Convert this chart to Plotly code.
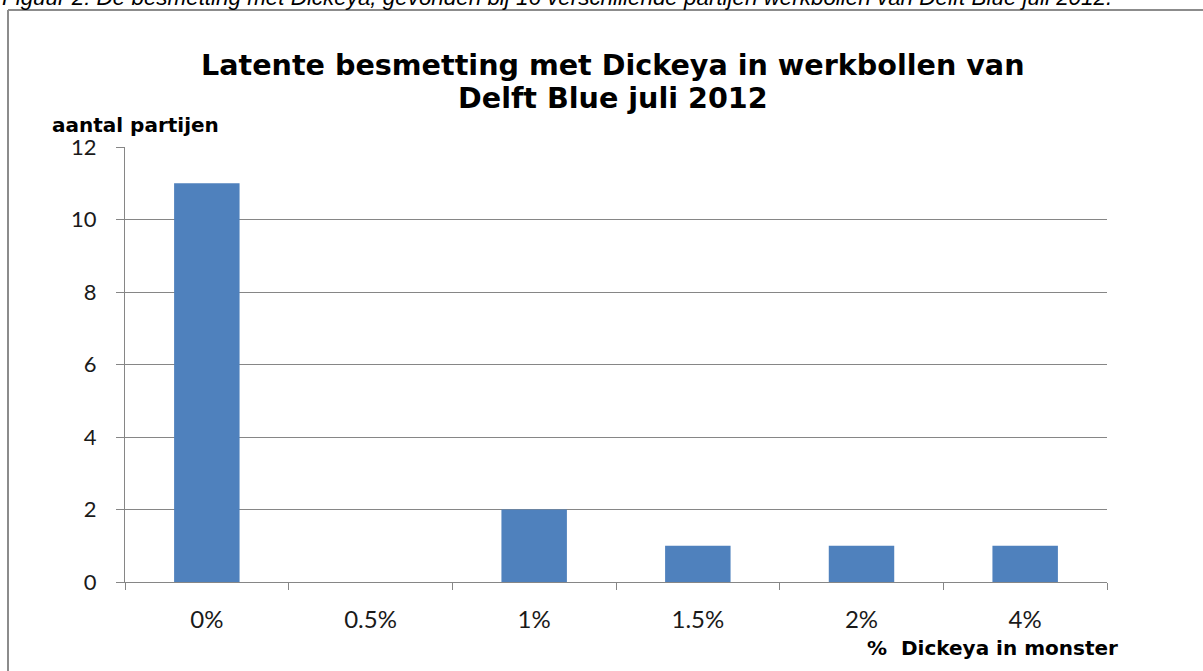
import plotly.graph_objects as go

categories = ["0%", "0.5%", "1%", "1.5%", "2%", "4%"]
counts = [11, 0, 2, 1, 1, 1]
y_tick_values = [0, 2, 4, 6, 8, 10, 12]

W, H = 1203, 671
L, R, T, B = 125, 96, 147, 89
pw = W - L - R
ph = H - T - B


def px(x):
    return (x - L) / pw


def py(y):
    return (H - B - y) / ph


GRAY = "#868686"
FONT = "Lato"
BOLD_FONT = "DejaVu Sans"

fig = go.Figure(
    go.Bar(x=categories, y=counts, marker=dict(color="#4F81BD", line=dict(width=0)))
)

fig.update_layout(
    width=W,
    height=H,
    margin=dict(l=L, r=R, t=T, b=B),
    paper_bgcolor="white",
    plot_bgcolor="white",
    bargap=0.6,
    showlegend=False,
    font=dict(family=FONT, color="#000000"),
)

fig.update_xaxes(
    type="category",
    range=[-0.5, 5.5],
    tickson="boundaries",
    ticks="outside",
    ticklen=7,
    tickcolor=GRAY,
    showline=True,
    linecolor=GRAY,
    linewidth=1,
    showgrid=False,
    tickfont=dict(size=24, family=FONT, color="#1a1a1a"),
    ticklabelstandoff=16,
)

fig.update_yaxes(
    range=[0, 12],
    tickvals=y_tick_values,
    ticks="outside",
    ticklen=8,
    tickcolor=GRAY,
    showline=True,
    linecolor=GRAY,
    linewidth=1,
    showgrid=True,
    gridcolor=GRAY,
    gridwidth=1,
    zeroline=False,
    tickfont=dict(size=22, family=FONT, color="#1a1a1a"),
    ticklabelstandoff=15,
)

annotations = [
    dict(
        text="Latente besmetting met Dickeya in werkbollen van",
        x=px(613), y=py(65), xref="paper", yref="paper",
        xanchor="center", yanchor="middle", showarrow=False,
        font=dict(family=BOLD_FONT, size=28.6, color="#000000", weight="bold"),
    ),
    dict(
        text="Delft Blue juli 2012",
        x=px(613), y=py(98), xref="paper", yref="paper",
        xanchor="center", yanchor="middle", showarrow=False,
        font=dict(family=BOLD_FONT, size=28.6, color="#000000", weight="bold"),
    ),
    dict(
        text="aantal partijen",
        x=px(50), y=py(125), xref="paper", yref="paper",
        xanchor="left", yanchor="middle", showarrow=False,
        font=dict(family=BOLD_FONT, size=20, color="#000000", weight="bold"),
    ),
    dict(
        text="%  Dickeya in monster",
        x=px(1120), y=py(648), xref="paper", yref="paper",
        xanchor="right", yanchor="middle", showarrow=False,
        font=dict(family=BOLD_FONT, size=20, color="#000000", weight="bold"),
    ),
    dict(
        text="<i>Figuur 2: De besmetting met Dickeya, gevonden bij 16 verschillende partijen werkbollen van Delft Blue juli 2012.</i>",
        x=px(0), y=py(-3), xref="paper", yref="paper",
        xanchor="left", yanchor="middle", showarrow=False,
        font=dict(family="Liberation Sans", size=22.4, color="#000000"),
    ),
]
fig.update_layout(annotations=annotations)

fig.add_shape(type="line", xref="paper", yref="paper",
              x0=px(8), x1=px(1210), y0=py(10), y1=py(10),
              line=dict(color="#8c8c8c", width=2))
fig.add_shape(type="line", xref="paper", yref="paper",
              x0=px(8), x1=px(8), y0=py(10), y1=py(680),
              line=dict(color="#8c8c8c", width=2))

fig.write_html("out.html")
